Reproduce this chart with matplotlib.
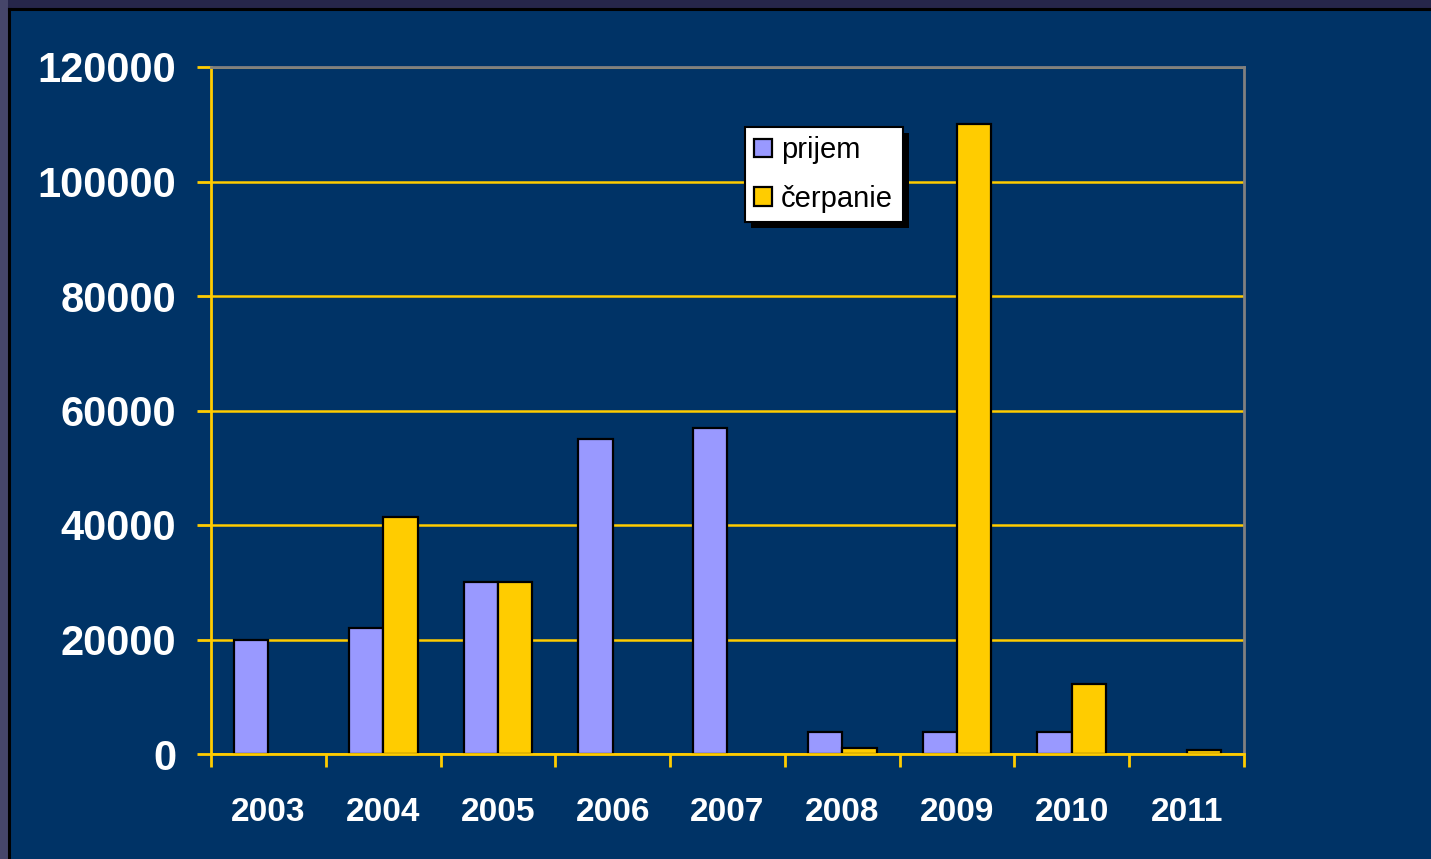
import matplotlib.pyplot as plt
import matplotlib.patches as mpatches
import numpy as np

years = ['2003', '2004', '2005', '2006', '2007', '2008', '2009', '2010', '2011']
prijem = [20000, 22000, 30000, 55000, 57000, 3900, 3900, 3900, 0]
cerpanie = [0, 41400, 30000, 0, 0, 1100, 110000, 12300, 700]

navy = '#003366'
gold = '#FFCC00'
lilac = '#9999FF'

plt.rcParams['font.family'] = ['Liberation Sans', 'DejaVu Sans']

fig = plt.figure(figsize=(14.31, 8.59), dpi=100, facecolor=navy)

# outer slide frame: dark bands on top/left with a black edge line
fig.patches.append(mpatches.Rectangle((0, 1 - 8 / 859), 1, 8 / 859, transform=fig.transFigure,
                                      facecolor='#26264a', edgecolor='none', zorder=0))
fig.patches.append(mpatches.Rectangle((0, 0), 8 / 1431, 1, transform=fig.transFigure,
                                      facecolor='#46466a', edgecolor='none', zorder=0))
fig.add_artist(plt.Line2D([8.5 / 1431, 1], [1 - 9 / 859, 1 - 9 / 859], transform=fig.transFigure,
                          color='black', lw=2.2))
fig.add_artist(plt.Line2D([9 / 1431, 9 / 1431], [0, 1 - 9 / 859], transform=fig.transFigure,
                          color='black', lw=2.2))

ax = fig.add_axes([211 / 1431, 1 - 754 / 859, (1244 - 211) / 1431, (754 - 67) / 859])
ax.set_facecolor(navy)

x = np.arange(len(years))
w = 0.3
# zero values get no bar outline
p_vals = np.array(prijem, dtype=float)
c_vals = np.array(cerpanie, dtype=float)
p_vals[p_vals == 0] = np.nan
c_vals[c_vals == 0] = np.nan
ax.bar(x - w / 2, p_vals, w, color=lilac, edgecolor='black', linewidth=1.6, label='prijem', zorder=3)
ax.bar(x + w / 2, c_vals, w, color=gold, edgecolor='black', linewidth=1.6, label='čerpanie', zorder=3)

ax.set_xlim(-0.5, len(years) - 0.5)
ax.set_ylim(0, 120000)
ax.set_yticks(np.arange(0, 120001, 20000))
ax.yaxis.grid(True, color=gold, linewidth=1.8, zorder=1)
ax.set_axisbelow(True)

ax.set_xticks(x)
ax.set_xticklabels(years)
ax.set_xticks(np.arange(-0.5, len(years)), minor=True)
ax.tick_params(axis='x', which='major', length=0, pad=31, labelsize=24, labelcolor='white')
ax.tick_params(axis='x', which='minor', length=9, width=2, color=gold, direction='out')
ax.tick_params(axis='y', which='major', length=10, width=2, color=gold, pad=15,
               labelsize=30, labelcolor='white')
for lab in ax.get_xticklabels() + ax.get_yticklabels():
    lab.set_fontweight('bold')

ax.spines['left'].set_color(gold)
ax.spines['bottom'].set_color(gold)
ax.spines['left'].set_linewidth(2)
ax.spines['bottom'].set_linewidth(2)
ax.spines['bottom'].set_zorder(4)
ax.spines['top'].set_color('#808080')
ax.spines['right'].set_color('#808080')
ax.spines['top'].set_linewidth(2)
ax.spines['right'].set_linewidth(2)

leg = ax.legend(loc='upper left', bbox_to_anchor=(745 / 1431, 1 - 127 / 859),
                bbox_transform=fig.transFigure, fancybox=False, frameon=True,
                fontsize=21, handlelength=0.6, handleheight=0.6, handletextpad=0.32,
                labelspacing=0.7, borderpad=0.32, borderaxespad=0)
leg.get_frame().set_edgecolor('black')
leg.get_frame().set_linewidth(1.5)
leg.get_frame().set_facecolor('white')
leg.get_frame().set_alpha(1)
leg.set_zorder(10)

# solid black drop shadow behind the legend box
fig.canvas.draw()
bb = leg.get_window_extent()
inv = fig.transFigure.inverted()
(x0, y0), (x1, y1) = inv.transform([(bb.x0 + 6, bb.y0 - 6), (bb.x1 + 6, bb.y1 - 6)])
ax.add_patch(mpatches.Rectangle((x0, y0), x1 - x0, y1 - y0, transform=fig.transFigure,
                                facecolor='black', edgecolor='none', zorder=9, clip_on=False))

fig.savefig('out.png', dpi=100, facecolor=navy)
